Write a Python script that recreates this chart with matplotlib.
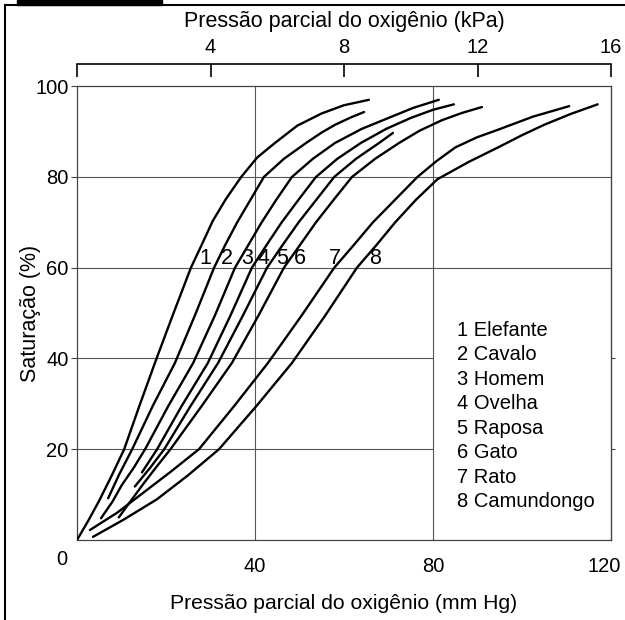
import numpy as np
import matplotlib.pyplot as plt
from matplotlib.patches import Rectangle
from matplotlib.lines import Line2D
from matplotlib.transforms import ScaledTranslation

plt.rcParams['font.family'] = ['Liberation Sans', 'DejaVu Sans']

# curves: (mm Hg, % saturation)
nomes = ["Elefante", "Cavalo", "Homem", "Ovelha", "Raposa", "Gato", "Rato", "Camundongo"]

x1 = [0, 2.5, 5, 7.8, 10.6, 14, 17.5, 21.5, 25.6, 28, 30.5, 33.5, 36.9, 40.5, 44.5, 49.5, 55, 60, 65.6]
y1 = [0, 4.2, 8.7, 14.2, 20, 29.5, 39, 49.5, 60, 65, 70.3, 75.2, 80, 84.3, 87.5, 91.3, 94, 95.8, 97]
x2 = [7, 9.5, 12.4, 17, 22, 26.5, 30.8, 33.3, 36, 39, 42, 46.5, 51.5, 55, 58, 61.5, 64.5]
y2 = [9.2, 14.5, 20, 29.5, 39, 49.5, 60, 65, 70, 75, 80, 84, 87.5, 89.8, 91.5, 93.1, 94.3]
x3 = [5.4, 8, 10, 12.8, 15.3, 20.5, 26.1, 31, 35.5, 38.5, 41.5, 44.8, 48.3, 53, 58, 64, 70, 75.5, 81.3]
y3 = [4.8, 8.5, 12, 16, 20, 29.5, 39, 49.5, 60, 65, 70, 75, 80, 84, 87.5, 90.6, 93, 95.2, 97]
x4 = [14.6, 18, 23.5, 29.4, 34.5, 39.3, 42.6, 46, 49.8, 53.7, 58.5, 63.8, 69.5, 75, 80, 84.7]
y4 = [14.9, 20, 29.5, 39, 49.5, 60, 65, 70, 75, 80, 84, 87.5, 90.6, 93, 94.8, 96]
x5 = [13, 16.5, 19.6, 25.5, 31.7, 37.3, 42.7, 46.2, 49.8, 53.8, 57.8, 62.7, 67.9, 71]
y5 = [11.8, 16, 20, 29.5, 39, 49.5, 60, 65, 70, 75, 80, 84, 87.5, 89.7]
x6 = [9.4, 12, 15, 18, 21, 28, 34.8, 40.8, 46.5, 50.1, 53.7, 57.7, 61.8, 67, 72.4, 77, 82, 86.5, 91]
y6 = [5, 8.5, 12.5, 16.3, 20, 29.5, 39, 49.5, 60, 65, 70, 75, 80, 84, 87.5, 90.2, 92.5, 94.1, 95.4]
x7 = [2.9, 9, 15, 21, 27.4, 35.3, 42.9, 50.5, 57.8, 62.2, 66.5, 71.5, 76.5, 80.8, 85, 89.8, 94.6, 102.5, 110.6]
y7 = [2.2, 6, 10.5, 15, 20, 29.5, 39, 49.5, 60, 65, 70, 75, 80, 83.5, 86.5, 88.7, 90.4, 93.3, 95.6]
x8 = [3.6, 10.5, 18, 25, 31.9, 40.3, 48.3, 55.8, 62.9, 67.3, 71.5, 76.2, 81, 88, 94.6, 100, 105, 111, 117]
y8 = [0.7, 4.5, 9, 14.3, 20, 29.5, 39, 49.5, 60, 65, 70, 75, 79.5, 83.3, 86.5, 89.2, 91.5, 93.9, 96]

curvas_x = [x1, x2, x3, x4, x5, x6, x7, x8]
curvas_y = [y1, y2, y3, y4, y5, y6, y7, y8]

# where the numbers 1..8 sit, just above the 60 % line
rotulo_x = [28.8, 33.7, 38.2, 42, 46, 50, 58, 67]

fig = plt.figure(figsize=(6.25, 6.2), dpi=100)
ax = fig.add_axes([77 / 625, 0.129, 534 / 625, 0.732])

# grid: lines at 20 and 40 % stop at 80 mm Hg (legend area)
for gx in [40, 80]:
    ax.axvline(gx, color='#555', lw=0.8, zorder=1)
for gy in [60, 80]:
    ax.axhline(gy, color='#555', lw=0.8, zorder=1)
for gy in [20, 40]:
    ax.axhline(gy, xmax=80 / 120, color='#555', lw=0.8, zorder=1)

for xs, ys in zip(curvas_x, curvas_y):
    ax.plot(xs, ys, color='black', lw=1.7, solid_capstyle='round', solid_joinstyle='round', zorder=3)

for i, xr in enumerate(rotulo_x):
    ax.text(xr, 59.8, str(i + 1), ha='center', va='bottom', fontsize=15.5)

# legend as plain text
for i, nome in enumerate(nomes):
    ax.text(85.5, 46.2 - 5.4 * i, f"{i + 1} {nome}", ha='left', va='center', fontsize=14.5)

ax.set_xlim(0, 120)
ax.set_ylim(0, 100)
ax.set_xticks([0, 40, 80, 120])
ax.set_yticks([20, 40, 60, 80, 100])
ax.tick_params(axis='x', length=0, pad=12, labelsize=14.5)
ax.tick_params(axis='y', length=4, direction='out', pad=2, labelsize=14.5, color='#444')
xl = ax.get_xticklabels()
xl[0].set_transform(xl[0].get_transform() + ScaledTranslation(-0.15, 0.07, fig.dpi_scale_trans))
xl[-1].set_transform(xl[-1].get_transform() + ScaledTranslation(-0.07, 0, fig.dpi_scale_trans))
for s in ax.spines.values():
    s.set_color('#444')
    s.set_linewidth(0.9)

ax.set_xlabel('Pressão parcial do oxigênio (mm Hg)', fontsize=15.2, labelpad=13)
ax.set_ylabel('Saturação (%)', fontsize=15.5)
ax.yaxis.set_label_coords(-0.067, 0.5)

# kPa scale on top
sec = ax.secondary_xaxis('top', functions=(lambda x: x / 7.5, lambda k: k * 7.5))
sec.spines['top'].set_position(('outward', 16))
sec.spines['top'].set_linewidth(1.2)
sec.set_xticks([0, 4, 8, 12, 16])
sec.set_xticklabels(['', '4', '8', '12', '16'])
sec.tick_params(direction='in', length=9, width=1.2, pad=5, labelsize=14.5)
sec.set_xlabel('Pressão parcial do oxigênio (kPa)', fontsize=15.5, labelpad=8)

sec_y = ax.secondary_yaxis('right')
sec_y.set_yticks([20, 40])
sec_y.set_yticklabels([])
sec_y.tick_params(length=3, color='#444')

# scan framing
fig.add_artist(Rectangle((17 / 625, 1 - 5 / 620), 145 / 625, 5 / 620,
                         transform=fig.transFigure, color='black'))
fig.add_artist(Line2D([5 / 625, 5 / 625], [0, 1 - 5 / 620], transform=fig.transFigure, color='black', lw=1.5))
fig.add_artist(Line2D([5 / 625, 1], [1 - 5 / 620, 1 - 5 / 620], transform=fig.transFigure, color='black', lw=1.5))

fig.savefig('out.png', dpi=100)
